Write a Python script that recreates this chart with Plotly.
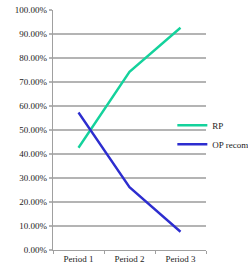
import plotly.graph_objects as go

categories = ["Period 1", "Period 2", "Period 3"]
rp_values = [0.426, 0.742, 0.926]
op_values = [0.573, 0.262, 0.076]
series_names = ["RP", "OP recommended"]
y_ticks = [0, 0.1, 0.2, 0.3, 0.4, 0.5, 0.6, 0.7, 0.8, 0.9, 1.0]

font = dict(family="Liberation Serif, Times New Roman, serif", size=9, color="#222222")

fig = go.Figure()
fig.add_trace(go.Scatter(x=categories, y=rp_values, mode="lines", name=series_names[0],
                         line=dict(color="#14d29c", width=2.4)))
fig.add_trace(go.Scatter(x=categories, y=op_values, mode="lines", name=series_names[1],
                         line=dict(color="#2d2dcf", width=2.4)))

fig.update_layout(
    width=248, height=267,
    margin=dict(l=53, r=42, t=10, b=16.5, autoexpand=False),
    paper_bgcolor="white", plot_bgcolor="white",
    font=font,
    showlegend=True,
    legend=dict(x=0.78, y=0.58, xanchor="left", yanchor="top",
                bgcolor="rgba(0,0,0,0)", borderwidth=0, font=font,
                itemwidth=30, tracegroupgap=0),
)
fig.update_xaxes(type="category", range=[-0.5, 2.5], tickson="boundaries",
                 ticks="outside", ticklen=3, tickcolor="#a0a0a0", tickwidth=1.3,
                 showline=True, linecolor="#a0a0a0", linewidth=1.3,
                 showgrid=False, zeroline=False, tickfont=font)
fig.update_yaxes(range=[0, 1], tickvals=y_ticks, tickformat=".2%",
                 ticks="outside", ticklen=3, tickcolor="#b4b4b4", tickwidth=1.5,
                 showline=True, linecolor="#a0a0a0", linewidth=1.3,
                 showgrid=True, gridcolor="#b4b4b4", gridwidth=1.5,
                 zeroline=False, tickfont=font)

# remove the default 8px page margin so the figure fills the window
fig.write_html("out.html", config={"displayModeBar": False},
               post_script="document.body.style.margin='0';document.body.style.overflow='hidden';")
